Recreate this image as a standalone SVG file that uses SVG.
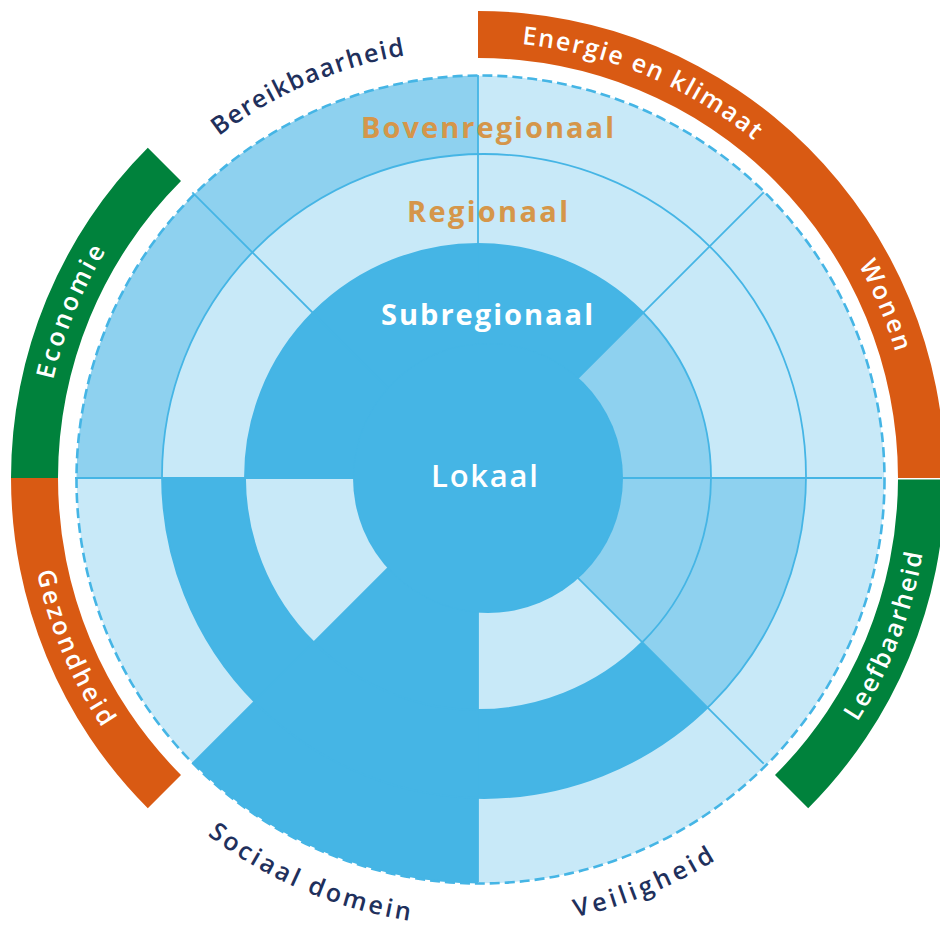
<svg xmlns="http://www.w3.org/2000/svg" width="940" height="928" viewBox="0 0 940 928">
<style>
.blue{fill:#45b5e5}
.mid{fill:#8ed1ef}
.light{fill:#c8e9f8}
.orange{fill:#d95a13}
.green{fill:#00823c}
.ln{fill:none;stroke:#45b5e5;stroke-width:1.8}
.dash{fill:none;stroke:#45b5e5;stroke-width:2.6;stroke-dasharray:10 5}
.lvl{font-family:'Open Sans','Liberation Sans',sans-serif;font-weight:700}
.arc{font-family:'Open Sans','Liberation Sans',sans-serif;font-weight:600;font-size:25px}
.navy{fill:#1f305c}
.wht{fill:#ffffff}
.gold{fill:#d5964a}
</style>
<defs>
<clipPath id="c3"><circle cx="480.5" cy="479.5" r="404"/></clipPath>
<clipPath id="c2"><circle cx="484" cy="476" r="322"/></clipPath>
<clipPath id="c1"><circle cx="478" cy="477" r="233"/></clipPath>
<path id="top429" d="M106.5,263.5 A429,429 0 0 1 849.5,263.5"/>
<path id="top436" d="M100.4,260 A436,436 0 0 1 855.6,260"/>
<path id="bot451" d="M87.4,703.5 A451,451 0 0 0 868.6,703.5"/>
<path id="bot448" d="M90,702 A448,448 0 0 0 866,702"/>
<path id="bot450" d="M88.3,703 A450,450 0 0 0 867.7,703"/>
</defs>

<g id="ring-bovenregionaal" clip-path="url(#c3)">
<circle class="light" cx="480.5" cy="479.5" r="404"/>
<polygon class="mid" points="478,478 -122,478 53.7,53.7 478,-122"/>
<polygon class="blue" points="478,478 478,1078 53.7,902.3"/>
</g>
<g id="ring-regionaal" clip-path="url(#c2)">
<circle class="light" cx="484" cy="476" r="322"/>
<polygon class="mid" points="478,478 1078,478 902.3,902.3"/>
<polygon class="blue" points="478,478 902.3,902.3 478,1078 53.7,902.3 -122,478"/>
</g>
<g id="ring-subregionaal" clip-path="url(#c1)">
<circle class="blue" cx="478" cy="477" r="233"/>
<polygon class="mid" points="478,478 902.3,53.7 1078,478 902.3,902.3"/>
<polygon class="light" points="478,478 902.3,902.3 478,1078"/>
<polygon class="light" points="478,478 53.7,902.3 -122,478"/>
</g>
<g id="lokaal">
<circle class="blue" cx="488" cy="478" r="135"/>
</g>

<g id="connectors">
<circle class="ln" cx="478" cy="477" r="233"/>
<circle class="ln" cx="484" cy="476" r="322"/>
<line class="ln" x1="478" y1="478" x2="478" y2="75"/>
<line class="ln" x1="478" y1="478" x2="763.7" y2="192.3"/>
<line class="ln" x1="478" y1="478" x2="882" y2="478"/>
<line class="ln" x1="478" y1="478" x2="763.7" y2="763.7"/>
<line class="ln" x1="478" y1="478" x2="478" y2="882"/>
<line class="ln" x1="478" y1="478" x2="192.3" y2="763.7"/>
<line class="ln" x1="478" y1="478" x2="75" y2="478"/>
<line class="ln" x1="478" y1="478" x2="192.3" y2="192.3"/>
<circle class="blue" cx="488" cy="478" r="134"/>
<circle class="dash" cx="480.5" cy="479.5" r="404"/>
</g>

<g id="bands">
<path class="orange" d="M478,11 A467,467 0 0 1 945,478 L898,478 A420,420 0 0 0 478,58 Z"/>
<path class="green" d="M945,479.5 A467,467 0 0 1 808.2,808.2 L775,775 A420,420 0 0 0 898,479.5 Z"/>
<path class="orange" d="M147.8,808.2 A467,467 0 0 1 11,478 L58,478 A420,420 0 0 0 181,775 Z"/>
<path class="green" d="M11,478 A467,467 0 0 1 147.8,147.8 L181,181 A420,420 0 0 0 58,478 Z"/>
</g>

<g id="level-labels" class="lvl">
<text class="gold" x="361" y="138" font-size="29" textLength="253" lengthAdjust="spacing">Bovenregionaal</text>
<text class="gold" x="407" y="222" font-size="29" textLength="161" lengthAdjust="spacing">Regionaal</text>
<text class="wht" x="381" y="325" font-size="29" textLength="212" lengthAdjust="spacing">Subregionaal</text>
<text class="wht" x="431" y="487" font-size="31" font-weight="600" textLength="107" lengthAdjust="spacing">Lokaal</text>
</g>

<g id="theme-labels" class="arc" text-anchor="middle">
<text class="navy" transform="rotate(-23.5 478 478)"><textPath href="#top429" startOffset="50%" textLength="205" lengthAdjust="spacing">Bereikbaarheid</textPath></text>
<text class="wht" transform="rotate(22.5 478 478)"><textPath href="#top436" startOffset="50%" textLength="255" lengthAdjust="spacing">Energie en klimaat</textPath></text>
<text class="wht" transform="rotate(67 478 478)"><textPath href="#top436" startOffset="50%" textLength="95" lengthAdjust="spacing">Wonen</textPath></text>
<text class="wht" transform="rotate(-67.8 478 478)"><textPath href="#top436" startOffset="50%" textLength="140" lengthAdjust="spacing">Economie</textPath></text>
<text class="wht" transform="rotate(-68.8 478 478)"><textPath href="#bot451" startOffset="50%" textLength="182" lengthAdjust="spacing">Leefbaarheid</textPath></text>
<text class="navy" transform="rotate(-22.2 478 478)"><textPath href="#bot450" startOffset="50%" textLength="152" lengthAdjust="spacing">Veiligheid</textPath></text>
<text class="navy" transform="rotate(23 478 478)"><textPath href="#bot448" startOffset="50%" textLength="222" lengthAdjust="spacing">Sociaal domein</textPath></text>
<text class="wht" transform="rotate(67.2 478 478)"><textPath href="#bot451" startOffset="50%" textLength="170" lengthAdjust="spacing">Gezondheid</textPath></text>
</g>
</svg>
